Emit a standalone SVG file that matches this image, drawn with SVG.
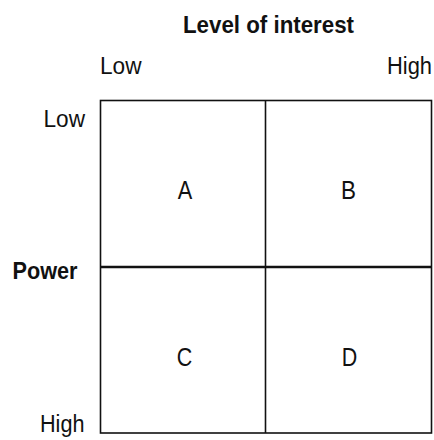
<svg xmlns="http://www.w3.org/2000/svg" width="434" height="440" viewBox="0 0 434 440">
<style>
text{font-family:"Liberation Sans",Arial,sans-serif;font-size:23px;fill:#111}
.b{font-weight:bold}
.q{text-anchor:middle;font-size:25px}
</style>
<rect width="434" height="440" fill="#fff"/>
<g id="labels">
<text class="b" x="183" y="33" textLength="171" lengthAdjust="spacingAndGlyphs">Level of interest</text>
<text x="100" y="73.5" textLength="41.5" lengthAdjust="spacingAndGlyphs">Low</text>
<text x="387" y="73.5" textLength="45" lengthAdjust="spacingAndGlyphs">High</text>
<text x="43.5" y="126.5" textLength="41.5" lengthAdjust="spacingAndGlyphs">Low</text>
<text class="b" x="12.5" y="279" textLength="65" lengthAdjust="spacingAndGlyphs">Power</text>
<text x="40" y="432" textLength="44.5" lengthAdjust="spacingAndGlyphs">High</text>
</g>
<g id="grid" fill="none" stroke="#111">
<rect x="100.5" y="100.5" width="331" height="332.5" stroke-width="1.6"/>
<line x1="265.5" y1="100" x2="265.5" y2="433" stroke-width="1.6"/>
<line x1="100" y1="267" x2="432" y2="267" stroke-width="2.6"/>
</g>
<g id="A"><text class="q" x="185" y="198.5" textLength="14.5" lengthAdjust="spacingAndGlyphs">A</text></g>
<g id="B"><text class="q" x="348.5" y="198.5" textLength="15" lengthAdjust="spacingAndGlyphs">B</text></g>
<g id="C"><text class="q" x="184.5" y="366" textLength="15.5" lengthAdjust="spacingAndGlyphs">C</text></g>
<g id="D"><text class="q" x="349.5" y="366" textLength="15.5" lengthAdjust="spacingAndGlyphs">D</text></g>
</svg>
